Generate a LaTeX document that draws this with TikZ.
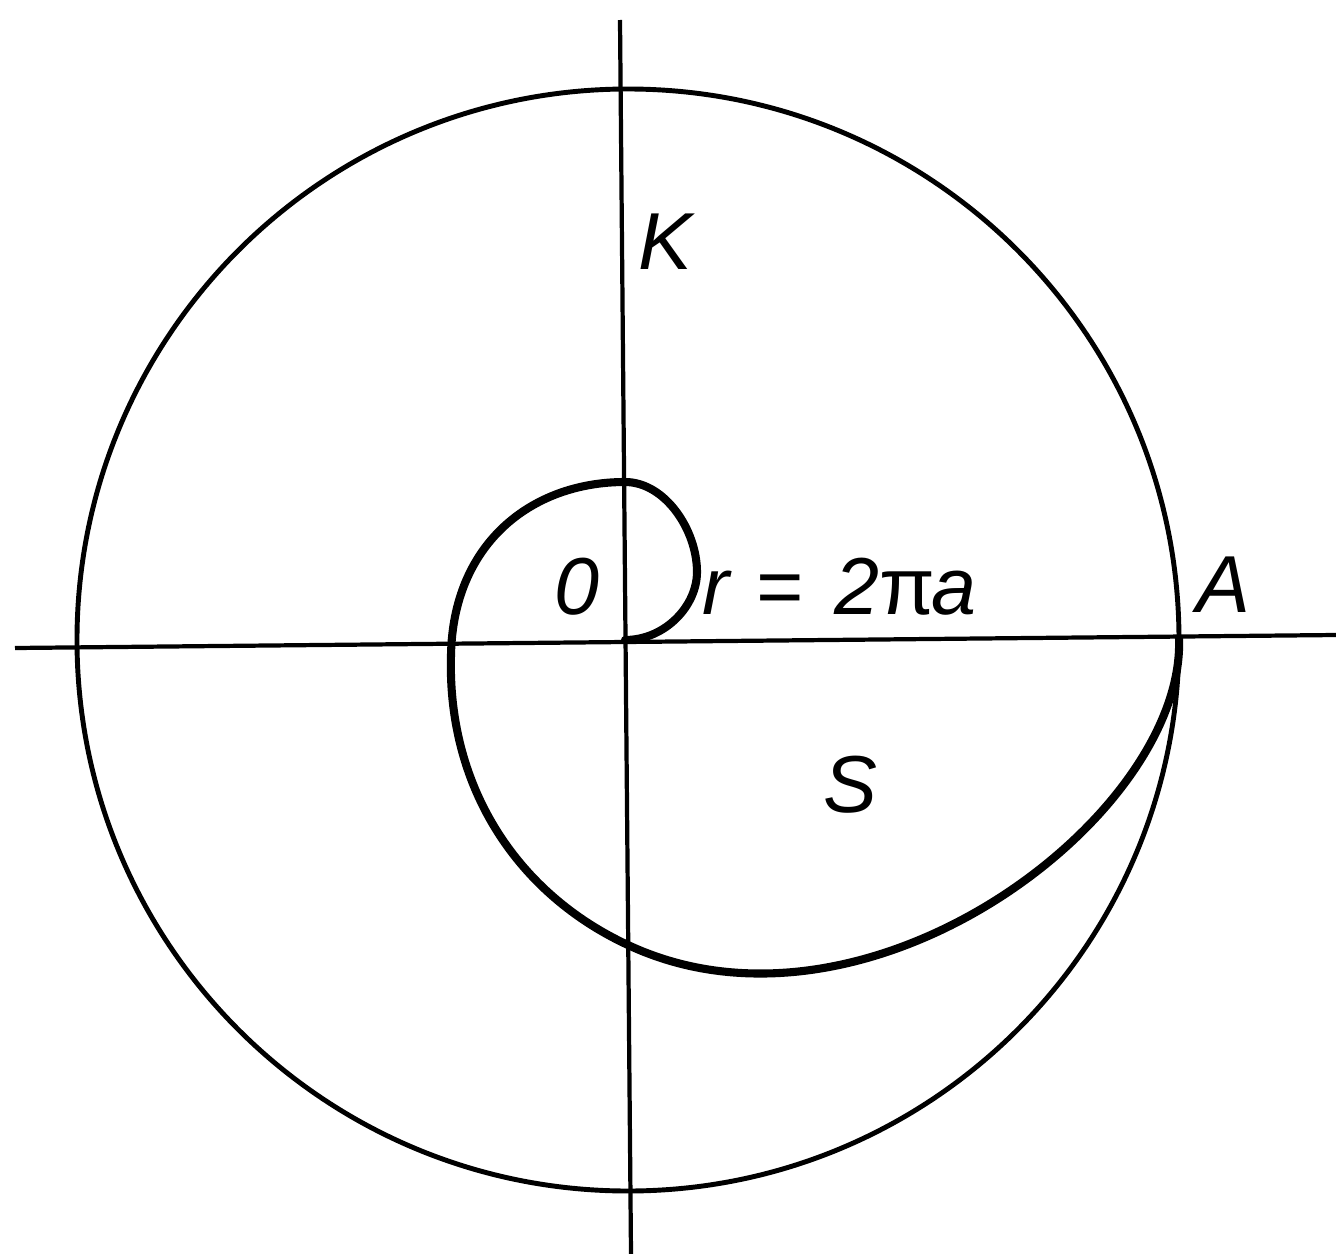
\documentclass[tikz,border=0pt]{standalone}
\usepackage{fontspec}
\setmainfont{Liberation Sans}
\begin{document}
\begin{tikzpicture}[x=0.02cm,y=-0.02cm,
  axisline/.style={line width=2.4pt},
  circline/.style={line width=2.8pt},
  spiralline/.style={line width=4.6pt,line cap=round,line join=round},
  lbl/.style={font=\fontsize{46}{50}\selectfont\itshape,inner sep=0pt}]
\useasboundingbox (0,0) rectangle (1336,1254);
\coordinate (C) at (628,640);
\coordinate (O) at (625,640);
\coordinate (A) at (1179,638);
\coordinate (s1) at (697,572);
\coordinate (s2) at (625,482);
\coordinate (s3) at (451,655);
\coordinate (s4) at (628,945);
\coordinate (vt) at (620,20);
\coordinate (vb) at (631,1254);
\coordinate (hl) at (15,648);
\coordinate (hr) at (1336,635);
\draw[axisline] (vt) -- (vb);
\draw[axisline] (hl) -- (hr);
\draw[circline] (C) circle[radius=551];
\draw[spiralline] (O) .. controls (665,640) and (697,606) .. (s1)
  .. controls (697,530) and (665,482) .. (s2)
  .. controls (530,482) and (453,545) .. (s3)
  .. controls (447,790) and (520,895) .. (s4)
  .. controls (868,1057) and (1186,815) .. (A);
\node[lbl] (K) at (665,242) {K};
\node[lbl] (Ol) at (577,587) {0};
\node[lbl,anchor=west] (r) at (702,587) {r\kern15pt=\kern18pt2\textup{π}\kern-2pt a};
\node[lbl] (Al) at (1223,585) {A};
\node[lbl] (S) at (850,785) {S};
\end{tikzpicture}
\end{document}
